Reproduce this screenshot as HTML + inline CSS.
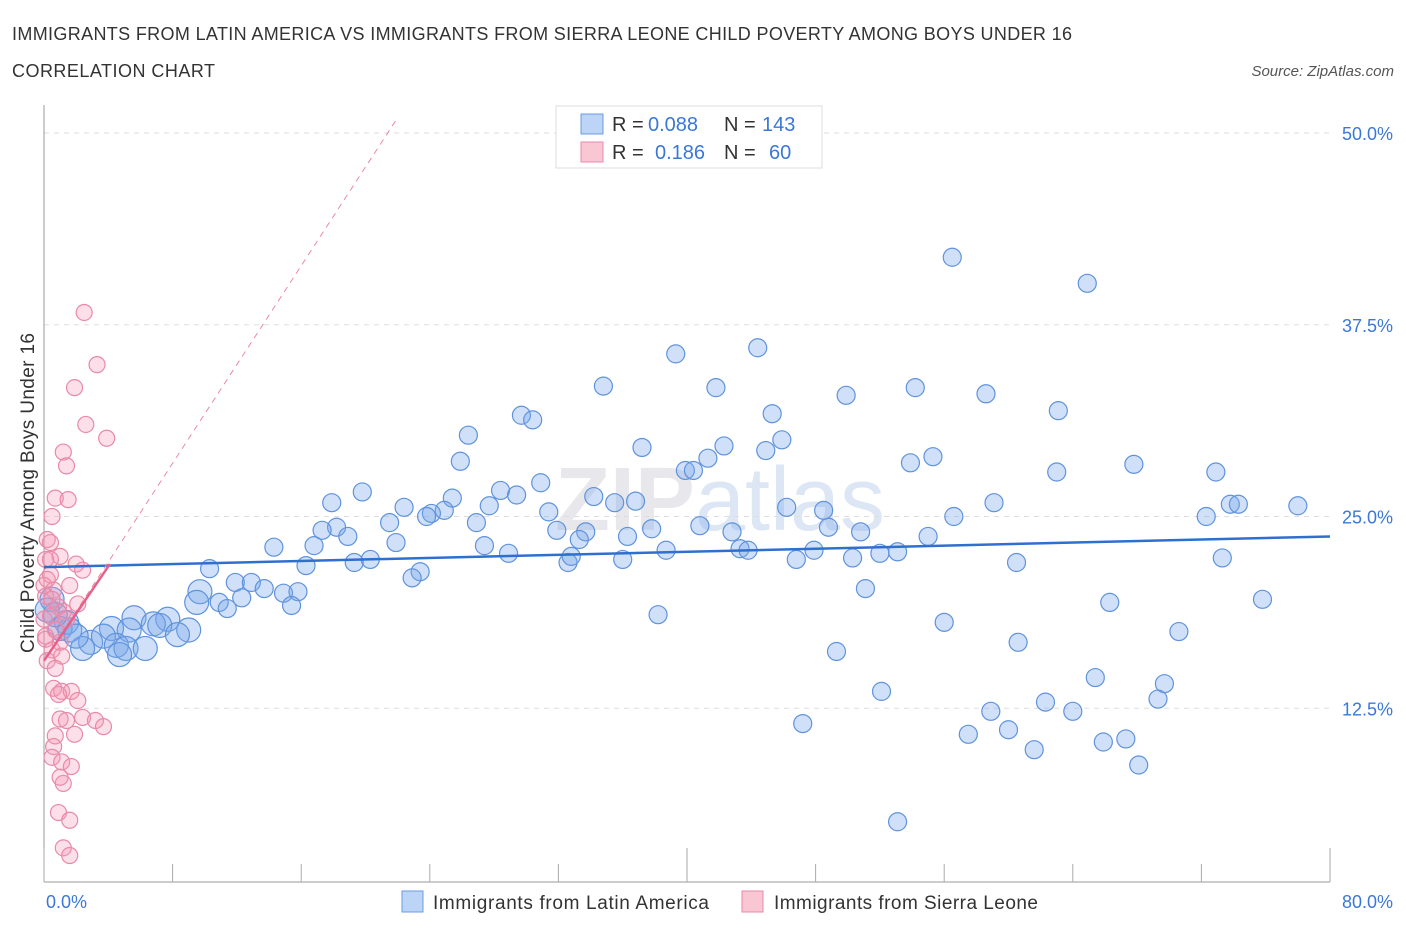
<!DOCTYPE html>
<html><head><meta charset="utf-8"><style>
body{margin:0;background:#fff;font-family:"Liberation Sans",sans-serif}
</style></head><body>
<svg id="c" width="1406" height="930" style="display:block">
<text x="12" y="40" font-size="18" fill="#333" textLength="1060">IMMIGRANTS FROM LATIN AMERICA VS IMMIGRANTS FROM SIERRA LEONE CHILD POVERTY AMONG BOYS UNDER 16</text>
<text x="12" y="77" font-size="18" fill="#333" textLength="203">CORRELATION CHART</text>
<text x="1394" y="76" font-size="15" fill="#555" font-style="italic" text-anchor="end">Source: ZipAtlas.com</text>
<text x="720" y="530" font-size="90" fill="#e8e8ec" text-anchor="middle" font-weight="bold">ZIP<tspan fill="#dde6f4" font-weight="normal">atlas</tspan></text>
<text x="34" y="493" font-size="19" fill="#333" text-anchor="middle" textLength="320" transform="rotate(-90 34 493)">Child Poverty Among Boys Under 16</text>
<g id="grid"></g><g id="pts"></g><g id="lines"></g>
<g>
<rect x="556" y="106" width="266" height="62" fill="#fff" stroke="#ddd"/>
<rect x="581" y="114" width="22" height="20" fill="#bcd4f5" stroke="#6a9be0"/>
<rect x="581" y="142" width="22" height="20" fill="#f9c6d4" stroke="#e88aa8"/>
<g font-size="20" fill="#333">
<text x="612" y="131">R =</text><text x="648" y="131" fill="#3a78d8">0.088</text>
<text x="724" y="131">N =</text><text x="762" y="131" fill="#3a78d8">143</text>
<text x="612" y="159">R =</text><text x="655" y="159" fill="#3a78d8">0.186</text>
<text x="724" y="159">N =</text><text x="769" y="159" fill="#3a78d8">60</text>
</g>
</g>
<g>
<rect x="402" y="891" width="21" height="21" fill="#bcd4f5" stroke="#6a9be0"/>
<text x="433" y="909" font-size="19" fill="#333" textLength="276">Immigrants from Latin America</text>
<rect x="742" y="891" width="21" height="21" fill="#f9c6d4" stroke="#e88aa8"/>
<text x="774" y="909" font-size="19" fill="#333" textLength="264">Immigrants from Sierra Leone</text>
</g>
</svg>
<script>
const yTicks=[12.5,25,37.5,50];
const yTickLabels=["12.5%","25.0%","37.5%","50.0%"];
const xTickLabels=["0.0%","80.0%"];
const blueX=[56.5,64.9,39.3,44.4,34.8,41.8,49.9,54.2,58.6,63.1,29.7,30.4,45.3,26.4,37.2,45.9,42.3,44.9,41.3,25.9,39.9,40.4,53.9,55.3,67.8,63.0,72.9,30.9,19.8,17.9,28.4,29.4,34.2,35.5,36.8,25.4,22.4,24.9,24.1,23.8,27.7,31.4,46.2,48.5,59.1,72.3,73.8,74.3,78.0,56.6,26.9,21.5,18.2,17.3,18.9,31.9,33.7,36.3,37.8,40.8,42.8,48.8,50.8,55.0,21.9,14.3,16.8,27.4,28.9,33.3,38.7,43.3,43.8,47.9,50.3,52.0,53.1,73.3,36.0,46.8,19.3,20.3,32.6,32.8,60.5,16.3,10.3,23.4,22.9,11.9,12.9,13.7,9.7,12.3,14.9,15.8,9.5,10.9,11.4,15.4,51.1,66.3,75.8,5.6,7.7,6.8,7.2,4.2,5.3,9.0,8.3,1.4,1.0,1.6,38.2,56.0,70.6,60.6,2.9,3.7,4.5,2.4,5.1,6.3,4.7,49.3,65.4,69.7,52.1,69.3,62.3,58.9,64.0,47.2,60.0,57.5,61.6,65.9,67.3,68.1,53.1,0.5,0.7,0.2,2.0];
const blueY=[41.9,40.2,35.6,36.0,33.5,33.4,32.9,33.4,33.0,31.9,31.6,31.3,31.7,30.3,29.5,30.0,29.6,29.3,28.8,28.6,28.0,28.0,28.5,28.9,28.4,27.9,27.9,27.2,26.6,25.9,26.7,26.4,26.3,25.9,26.0,26.2,25.6,25.4,25.2,25.0,25.7,25.3,25.6,25.4,25.9,25.0,25.8,25.8,25.7,25.0,24.6,24.6,24.3,24.1,23.7,24.1,24.0,23.7,24.2,24.4,24.0,24.3,24.0,23.7,23.3,23.0,23.1,23.1,22.6,23.5,22.8,22.9,22.8,22.8,22.3,22.6,22.7,22.3,22.2,22.2,22.0,22.2,22.0,22.4,22.0,21.8,21.6,21.4,21.0,20.7,20.7,20.3,20.1,19.7,20.0,20.1,19.4,19.4,19.0,19.2,20.3,19.4,19.6,18.4,18.3,18.0,17.9,17.7,17.6,17.6,17.3,18.1,17.7,17.6,18.6,18.1,17.5,16.8,16.8,17.2,16.6,16.4,16.4,16.4,16.0,16.2,14.5,14.1,13.6,13.1,12.9,12.3,12.3,11.5,11.1,10.8,9.8,10.3,10.5,8.8,5.1,19.6,18.6,18.9,17.2];
const pinkX=[2.5,3.3,1.9,2.6,3.9,1.2,1.4,0.7,1.5,0.5,0.2,0.4,1,0.1,2,2.4,0.4,0,1.6,0.6,0.1,2.1,0.9,1.2,0.4,1.4,0.7,0.1,1,0.5,1.1,0.2,0.7,0.6,1.1,1.7,0.9,2.1,1,1.4,2.4,3.2,3.7,1.9,0.7,0.6,0.5,1.1,1.7,1,1.2,0.9,1.6,1.2,1.6,0.2,0.5,0,0.1,0.4];
const pinkY=[38.3,34.9,33.4,31,30.1,29.2,28.3,26.2,26.1,25,23.5,23.3,22.4,22.2,21.9,21.5,21.2,20.5,20.5,20.2,19.8,19.3,19.1,18.8,18.5,18.3,17.6,17.2,16.8,16.3,15.9,15.6,15.1,13.8,13.6,13.6,13.4,13,11.8,11.7,11.9,11.7,11.3,10.8,10.7,10,9.3,9,8.7,8,7.6,5.7,5.2,3.4,2.9,20.9,19.6,18.3,17,22.2];
const ns="http://www.w3.org/2000/svg";
const X=v=>44+v/80*1286, Y=v=>900-v/50*767;
function mk(t,a,p){const e=document.createElementNS(ns,t);for(const k in a)e.setAttribute(k,a[k]);p.appendChild(e);return e;}
const grid=document.getElementById('grid'),pts=document.getElementById('pts'),lines=document.getElementById('lines');
yTicks.forEach((v,i)=>{
 const l=mk('line',{x1:44,x2:1330,y1:Y(v),y2:Y(v),stroke:'#ddd','stroke-dasharray':'5,5'},grid);
 
 
 const t=mk('text',{x:1393,y:Y(v)+7,'font-size':18,fill:'#3a78d8','text-anchor':'end'},grid);t.textContent=yTickLabels[i];
 
 
});
mk('line',{x1:44,x2:44,y1:105,y2:882,stroke:'#999'},grid);
mk('line',{x1:44,x2:1330,y1:882,y2:882,stroke:'#999'},grid);
for(let i=0;i<=10;i++)mk('line',{x1:X(i*8),x2:X(i*8),y1:882,y2:i%5?864:848,stroke:'#aaa'},grid);
[[0,xTickLabels[0],'start',46],[80,xTickLabels[1],'end',1393]].forEach(a=>{const t=mk('text',{x:a[3],y:908,'font-size':18,fill:'#3a78d8','text-anchor':a[2]},grid);t.textContent=a[1];
 
 });
blueX.forEach((x,i)=>{const c=mk('circle',{cx:X(x),cy:Y(blueY[i]),r:x<10?12:9,fill:'rgba(120,165,235,0.35)',stroke:'#5f93dd','stroke-width':1.2},pts);
 
 });
pinkX.forEach((x,i)=>{const c=mk('circle',{cx:X(x),cy:Y(pinkY[i]),r:8,fill:'rgba(245,150,180,0.3)',stroke:'#e88aa8','stroke-width':1.2},pts);
 
 });
let l=mk('line',{x1:X(0),y1:Y(21.7),x2:X(80),y2:Y(23.7),stroke:'#2f6fd0','stroke-width':2.5},lines);


l=mk('line',{x1:X(0),y1:Y(15.6),x2:X(22),y2:Y(51),stroke:'#e88aa8','stroke-width':1,'stroke-dasharray':'6,5'},lines);


l=mk('line',{x1:X(0),y1:Y(15.6),x2:X(4.1),y2:Y(21.9),stroke:'#e8608a','stroke-width':2.5},lines);


</script>
</body></html>
